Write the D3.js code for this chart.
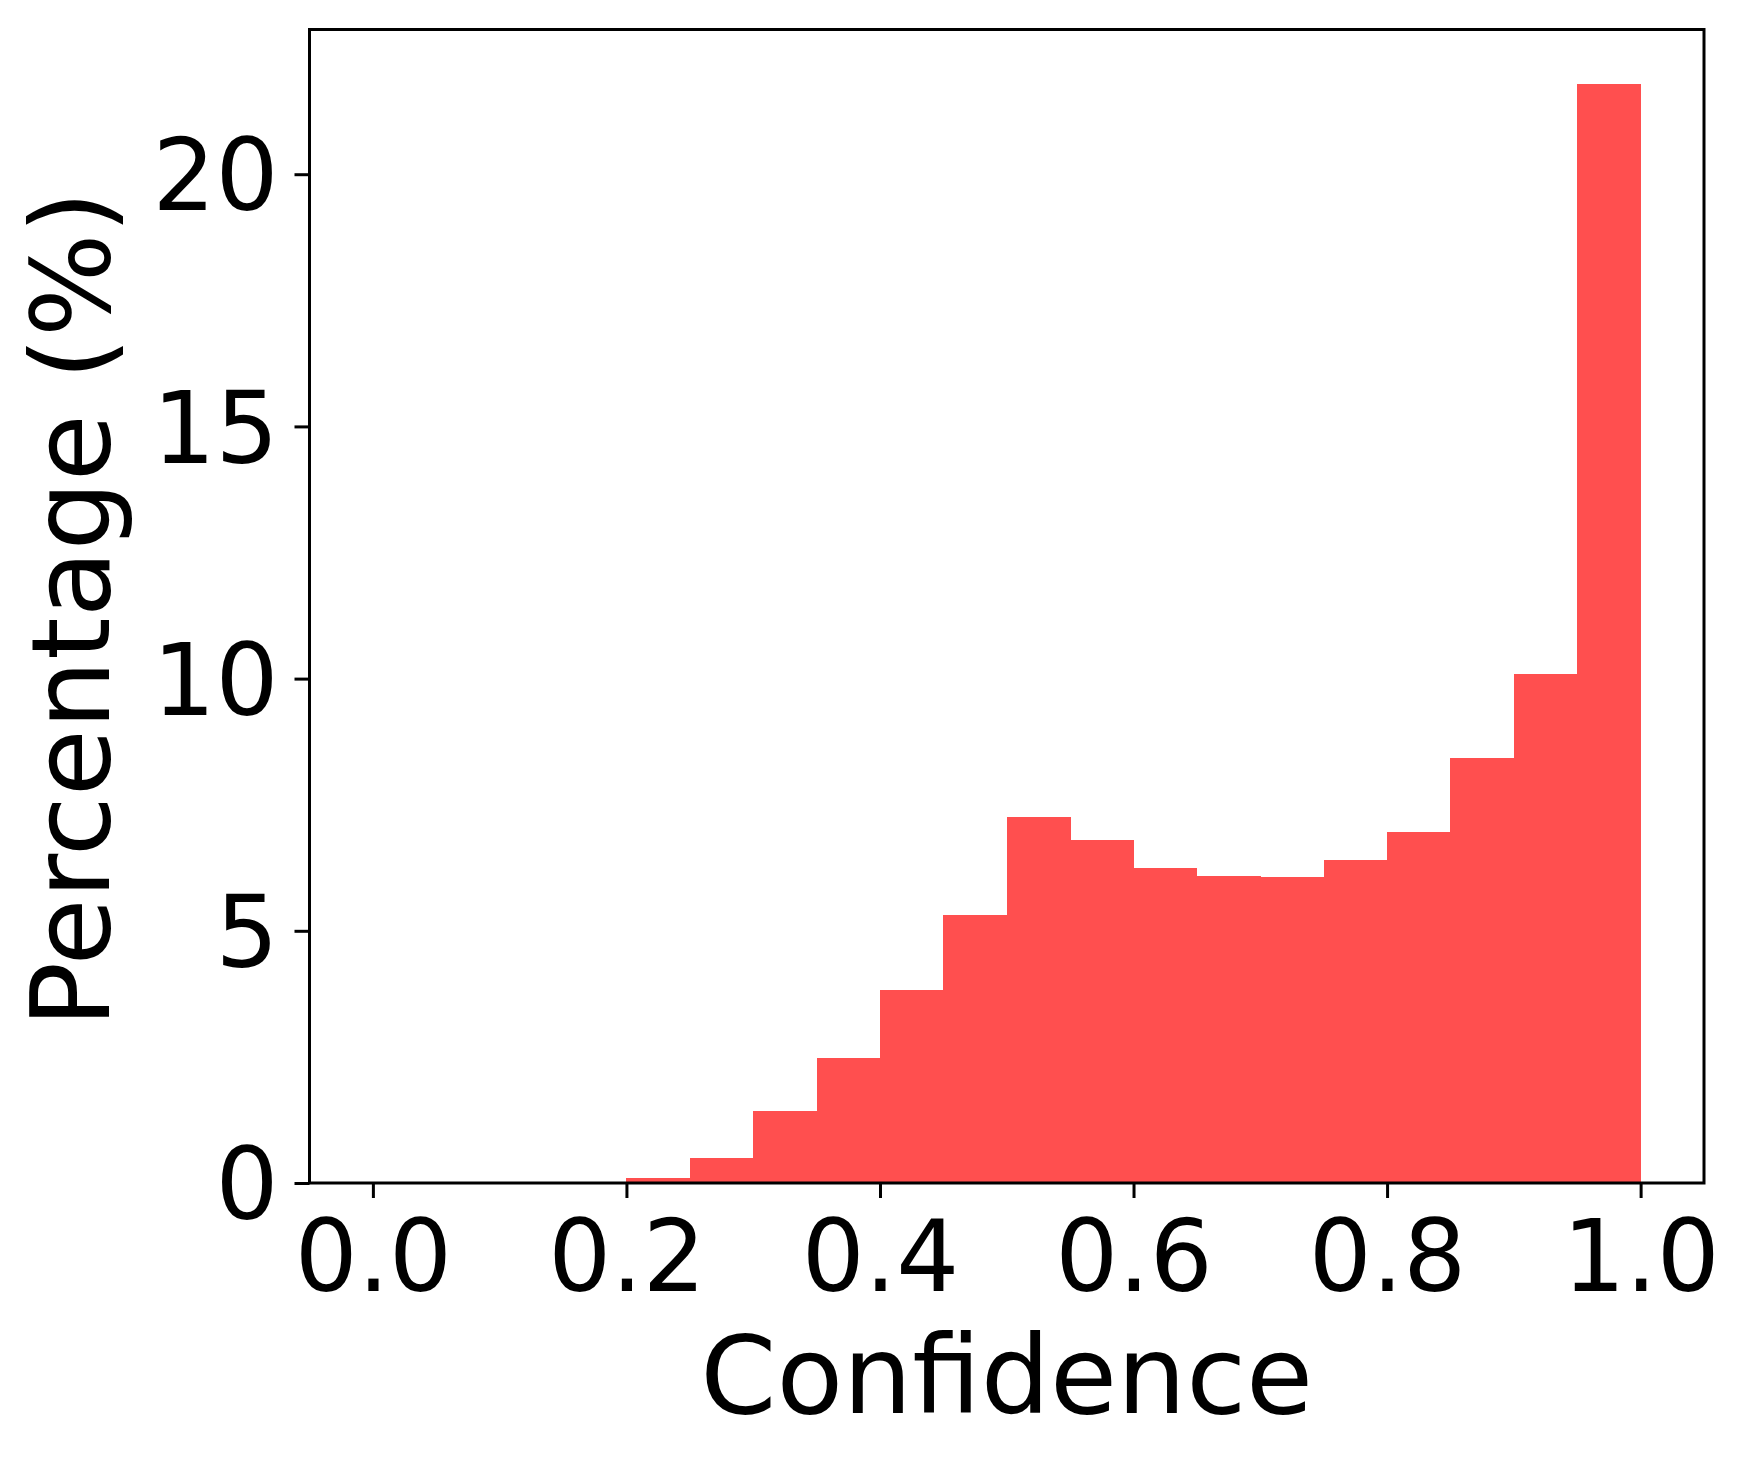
<!DOCTYPE html>
<html>
<head>
<meta charset="utf-8">
<script src="https://cdn.jsdelivr.net/npm/d3@7"></script>
<style>
  html, body { margin: 0; padding: 0; background: #fff; }
  svg { display: block; }
  text { font-family: "DejaVu Sans", sans-serif; fill: #000; }
</style>
</head>
<body>
<svg id="chart" width="1750" height="1463"></svg>
<script>
// Histogram bins (left edges) and percentages
const binStarts = [0.00, 0.05, 0.10, 0.15, 0.20, 0.25, 0.30, 0.35, 0.40, 0.45,
                   0.50, 0.55, 0.60, 0.65, 0.70, 0.75, 0.80, 0.85, 0.90, 0.95];
const binWidth = 0.05;
const percentages = [0, 0, 0, 0, 0.10, 0.50, 1.43, 2.48, 3.83, 5.31,
                     7.25, 6.80, 6.24, 6.08, 6.07, 6.40, 6.96, 8.43, 10.09, 21.78];
const xTicks = [0.0, 0.2, 0.4, 0.6, 0.8, 1.0];
const yTicks = [0, 5, 10, 15, 20];
const xLabel = "Confidence";
const yLabel = "Percentage (%)";

const svg = d3.select("#chart");
const mLeft = 309.5, mRight = 1704, mTop = 29.5, mBottom = 1183;

const x = d3.scaleLinear().domain([-0.05, 1.05]).range([mLeft, mRight]);
const yMax = d3.max(percentages) * 1.05;
const y = d3.scaleLinear().domain([0, yMax]).range([mBottom, mTop]);

// Bars
svg.append("g").attr("shape-rendering", "crispEdges").selectAll("rect")
  .data(binStarts.map((s, i) => ({ s, v: percentages[i] })))
  .join("rect")
  .attr("x", d => x(d.s))
  .attr("width", d => x(d.s + binWidth) - x(d.s) + 0.5)
  .attr("y", d => y(d.v))
  .attr("height", d => y(0) - y(d.v))
  .attr("fill", "rgb(255,79,79)");

// X axis
const xAxis = svg.append("g")
  .attr("transform", `translate(0,${mBottom})`)
  .call(d3.axisBottom(x).tickValues(xTicks).tickFormat(d3.format(".1f"))
        .tickSize(15).tickPadding(23).tickSizeOuter(0));
xAxis.select(".domain").remove();
xAxis.selectAll(".tick line").attr("stroke", "#000").attr("stroke-width", 3);
xAxis.selectAll(".tick text").attr("font-size", 99).attr("font-family", "DejaVu Sans");

// Y axis
const yAxis = svg.append("g")
  .attr("transform", `translate(${mLeft},0)`)
  .call(d3.axisLeft(y).tickValues(yTicks).tickFormat(d3.format("d"))
        .tickSize(15).tickPadding(16).tickSizeOuter(0));
yAxis.select(".domain").remove();
yAxis.selectAll(".tick line").attr("stroke", "#000").attr("stroke-width", 3);
yAxis.selectAll(".tick text").attr("font-size", 99).attr("font-family", "DejaVu Sans")
  .attr("dy", "0.36em");

// Frame
svg.append("rect")
  .attr("x", mLeft).attr("y", mTop)
  .attr("width", mRight - mLeft).attr("height", mBottom - mTop)
  .attr("fill", "none").attr("stroke", "#000").attr("stroke-width", 3);

// Axis labels
svg.append("text")
  .attr("x", (mLeft + mRight) / 2).attr("y", 1413)
  .attr("text-anchor", "middle").attr("font-size", 109)
  .text(xLabel);

svg.append("text")
  .attr("transform", `translate(109,${(mTop + mBottom) / 2 + 3}) rotate(-90)`)
  .attr("text-anchor", "middle").attr("font-size", 109)
  .text(yLabel);
</script>
</body>
</html>
